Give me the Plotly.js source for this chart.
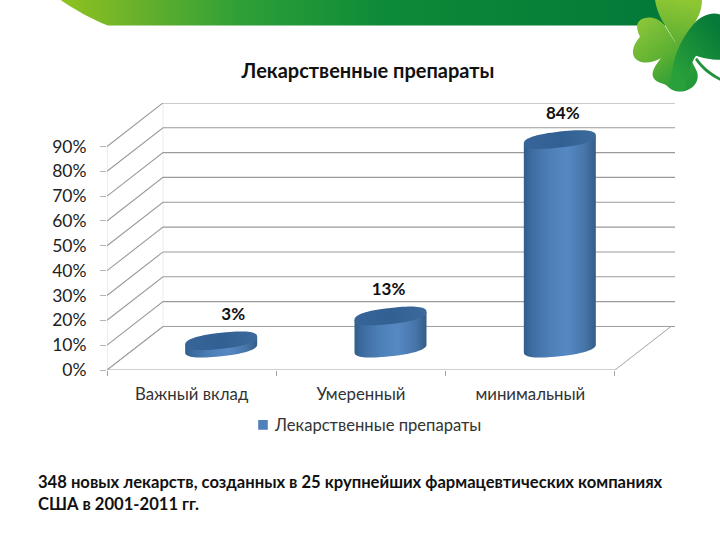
<!DOCTYPE html>
<html><head><meta charset="utf-8">
<script src="https://cdn.plot.ly/plotly-3.0.0.min.js"></script>
<style>html,body{margin:0;padding:0;background:#fff}#c{width:720px;height:540px}</style></head>
<body><div id="c"></div>
<script>
const categories = ["Важный вклад", "Умеренный", "минимальный"];
const values = [3, 13, 84];
const valueLabels = ["3%", "13%", "84%"];
const yTicks = [0,10,20,30,40,50,60,70,80,90];
const yTickLabels = ["0%","10%","20%","30%","40%","50%","60%","70%","80%","90%"];
const seriesName = "Лекарственные препараты";
const chartTitle = "Лекарственные препараты";
const caption = "348 новых лекарств, созданных в 25 крупнейших фармацевтических компаниях<br>США в 2001-2011 гг.";

// plot-area pixels
const L=107,R=675,T=103.3,B=370;
const W=720,H=540;
const xUnit=169.33, yUnit=2.481;
const xMin=-0.5, xMax=xMin+(R-L)/xUnit, yMax=(B-T)/yUnit;
const depthX=56/xUnit, depthY=43.5/yUnit;
const px=x=>(x-L)/(R-L), py=y=>(B-y)/(B-T);

const idx=categories.map((_,i)=>i);
const cx=idx.map(i=>i+depthX/2+1.5/xUnit);
const a=36/xUnit, b=8/yUnit, s=4/yUnit;
const sp=v=>Math.sign(v)*Math.pow(Math.abs(v),0.82);
const ell=(c,y,t)=>[c+a*sp(Math.cos(t)), y+b*sp(Math.sin(t))+s*sp(Math.cos(t))];
const steps=[...Array(73).keys()].map(k=>k/72*2*Math.PI);

const traces=[];
traces.push({type:'bar',x:cx,y:values,base:values.map(()=>depthY/2),width:a*1.7,name:seriesName,
  marker:{color:'#4f81bd',line:{width:0}},hoverinfo:'y',showlegend:true});

const gx=[],gy=[];
yTicks.forEach(v=>{gx.push(xMin,xMin+depthX,xMax,null);gy.push(v,v+depthY,v+depthY,null);});
const lineT=(x,y,c,w)=>({type:'scatter',mode:'lines',x,y,line:{color:c,width:w},hoverinfo:'skip',showlegend:false});
traces.push(lineT([xMin,xMin],[0,90],'#dedede',1));
traces.push(lineT([xMin+depthX,xMin+depthX],[depthY,90+depthY],'#ececec',1));
traces.push(lineT(gx,gy,'#9a9a9a',1.1));
traces.push(lineT([xMin,2.5,2.5+depthX,xMin+depthX,xMin],[0,0,depthY,depthY,0],'#a3a3a3',1));

const bodyScale=[[0,'#315d8b'],[0.1,'#3c6b9f'],[0.35,'#4d7fb7'],[0.6,'#5688c3'],[0.85,'#4675a9'],[1,'#345d87']];
const capScale=[[0,'#376599'],[0.5,'#336093'],[1,'#3c6a9d']];
idx.forEach(i=>{
  const y0=depthY/2, y1=y0+values[i];
  const bx=[],by=[];
  for(let k=0;k<=36;k++){const p=ell(cx[i],y0,Math.PI+k/36*Math.PI);bx.push(p[0]);by.push(p[1]);}
  const pr=ell(cx[i],y1,0), pl=ell(cx[i],y1,Math.PI);
  bx.push(pr[0],pl[0]);by.push(pr[1],pl[1]);
  traces.push({type:'scatter',mode:'none',x:bx,y:by,fill:'toself',fillgradient:{type:'horizontal',colorscale:bodyScale},hoverinfo:'skip',showlegend:false});
  const cp=steps.map(t=>ell(cx[i],y1,t));
  traces.push({type:'scatter',mode:'none',x:cp.map(p=>p[0]),y:cp.map(p=>p[1]),fill:'toself',fillgradient:{type:'horizontal',colorscale:capScale},hoverinfo:'skip',showlegend:false});
});
const labelShift=[12/xUnit,-2/xUnit,3/xUnit];
traces.push({type:'scatter',mode:'text',x:cx.map((c,i)=>c+labelShift[i]),y:values.map(v=>v+depthY/2+10),
  text:valueLabels,textposition:'middle center',textfont:{family:'Lato, sans-serif',size:17,color:'#111',weight:700},hoverinfo:'skip',showlegend:false});

const art=`<svg xmlns="http://www.w3.org/2000/svg" width="720" height="540" viewBox="0 0 720 540">
<defs>
<linearGradient id="b" gradientUnits="userSpaceOnUse" x1="60" x2="650" y1="0" y2="0"><stop offset="0" stop-color="#8fc31f"/><stop offset="0.12" stop-color="#6cb22a"/><stop offset="0.3" stop-color="#2fa037"/><stop offset="0.55" stop-color="#0d8a38"/><stop offset="1" stop-color="#047a38"/></linearGradient>
<linearGradient id="l" gradientUnits="userSpaceOnUse" x1="640" x2="690" y1="20" y2="80"><stop offset="0" stop-color="#8cc63a"/><stop offset="0.55" stop-color="#5cb032"/><stop offset="1" stop-color="#23993a"/></linearGradient>
<linearGradient id="t" gradientUnits="userSpaceOnUse" x1="680" x2="672" y1="0" y2="50"><stop offset="0" stop-color="#8fc733"/><stop offset="1" stop-color="#55ab33"/></linearGradient>
<linearGradient id="r" gradientUnits="userSpaceOnUse" x1="672" x2="720" y1="70" y2="30"><stop offset="0" stop-color="#2aa03a"/><stop offset="1" stop-color="#067a38"/></linearGradient>
</defs>
<path d="M60 0 C75 10 90 19 108 26 L665 26 L665 0 Z" fill="url(#b)"/>
<path d="M655 0 C656 8 660 18 664 24 L680 50 L695 23 C699 16 702 10 702 0 Z" fill="url(#t)"/>
<path d="M664 25 C658 18 648 16 641 20 C635 24 637 31 640 37 C635 43 631 50 634 57 C638 64 650 65 662 58 L680 50 Z" fill="url(#l)"/>
<path d="M662 57 C655 66 650 73 654 79 C658 84 663 83 667 86 C672 92 682 94 690 89 C697 85 699 78 697 72 C694 66 692 62 690 58 L678 40 Z" fill="url(#l)"/>
<path d="M695 23 C702 16 712 12 720 15 L720 60 C710 60 702 58 696 56 C690 64 688 78 684 91 C678 92 674 90 670 87 C672 66 676 44 695 23 Z" fill="url(#r)"/>
<path d="M695 60 C702 70 710 76 720 81 L720 78 C712 73 704 68 697 58 Z" fill="#1f9239"/>
</svg>`;

const layout={
  width:W,height:H,autosize:false,
  margin:{l:L,r:W-R,t:T,b:H-B,pad:0},
  paper_bgcolor:'#fff',plot_bgcolor:'rgba(0,0,0,0)',
  font:{family:'Lato, sans-serif',color:'#222'},
  title:{text:chartTitle,font:{family:'Lato, sans-serif',size:20,color:'#111',weight:700},x:px(368),xanchor:'center',y:1-71/H,yanchor:'middle',xref:'paper'},
  xaxis:{range:[xMin,xMax],tickmode:'array',tickvals:idx,ticktext:categories,ticks:'',showgrid:false,zeroline:false,showline:false,
    tickfont:{family:'Lato, sans-serif',size:16.8,color:'#333'},ticklabelstandoff:12,
    minor:{tickmode:'array',tickvals:[-0.5,0.5,1.5,2.5],ticks:'outside',ticklen:5,tickcolor:'#a3a3a3',tickwidth:1,showgrid:false}},
  yaxis:{range:[0,yMax],tickmode:'array',tickvals:yTicks,ticktext:yTickLabels,ticks:'outside',ticklen:6,tickcolor:'#b5b5b5',tickwidth:1,
    showgrid:false,zeroline:false,showline:false,tickfont:{family:'Lato, sans-serif',size:17.5,color:'#222'},ticklabelstandoff:10},
  showlegend:true,
  legend:{orientation:'h',x:px(247),xanchor:'left',y:py(425),yanchor:'middle',font:{family:'Lato, sans-serif',size:16.6,color:'#333'},indentation:-12,bgcolor:'rgba(0,0,0,0)'},
  annotations:[{text:caption,xref:'paper',yref:'paper',x:px(36),y:py(493),xanchor:'left',yanchor:'middle',align:'left',showarrow:false,
    font:{family:'Lato, sans-serif',size:16.6,color:'#111',weight:700}}],
  images:[{source:'data:image/svg+xml;utf8,'+encodeURIComponent(art),xref:'paper',yref:'paper',x:px(0),y:py(0),sizex:W/(R-L),sizey:H/(B-T),xanchor:'left',yanchor:'top',sizing:'stretch',layer:'below'}]
};
Plotly.newPlot('c',traces,layout,{displayModeBar:false,staticPlot:true}).then(()=>{
  // tighten the legend swatch against its label, as in the reference
  const sw=document.querySelector('.legend .legendpoints path');
  if(sw){const t=sw.getAttribute('transform')||'';sw.setAttribute('transform',t+' translate(8,0) scale(0.8)');}
});
</script></body></html>
